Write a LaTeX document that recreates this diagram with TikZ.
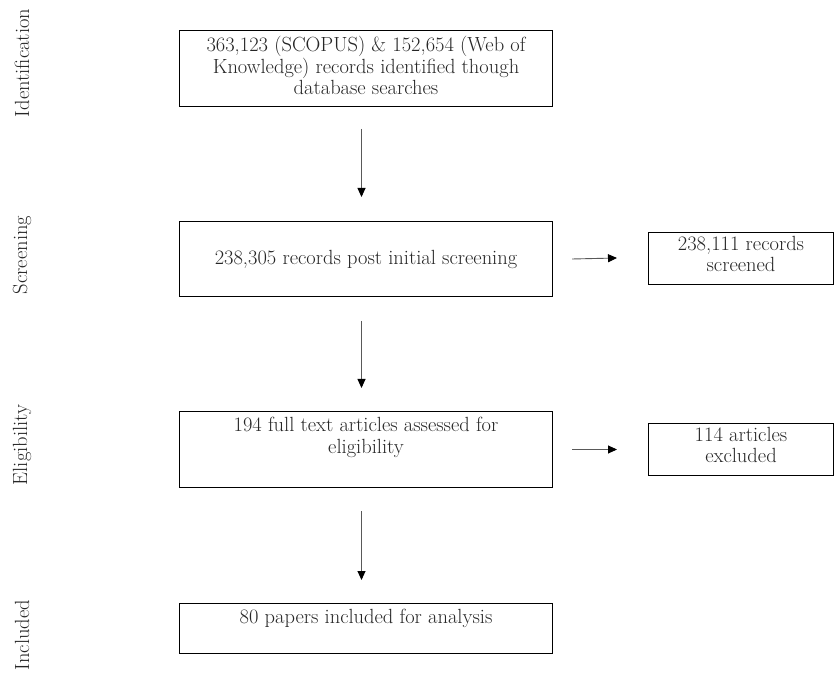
\documentclass[tikz,border=0pt]{standalone}
\usetikzlibrary{arrows.meta}
\begin{document}
\begin{tikzpicture}[x=1pt,y=1pt,
  box/.style={draw=black, line width=1pt, inner sep=0pt, anchor=north west},
  txt/.style={font=\fontsize{20.5}{21.5}\selectfont, align=center, text=black!85, inner sep=0pt},
  phase/.style={font=\fontsize{20.5}{21.5}\selectfont, rotate=90, text=black!85, inner sep=0pt},
  flow/.style={draw=black!65, line width=0.9pt, -{Triangle[length=9pt,width=8pt,color=black]}}
]
\useasboundingbox (0,0) rectangle (834,691);
% boxes (y = 691 - pixel y)
\node[box, minimum width=373pt, minimum height=76pt] (b1) at (179,661) {};
\node[box, minimum width=373pt, minimum height=75pt] (b2) at (179,470) {};
\node[box, minimum width=373pt, minimum height=76pt] (b3) at (179,280) {};
\node[box, minimum width=373pt, minimum height=50pt] (b4) at (179,88) {};
\node[box, minimum width=185pt, minimum height=52pt] (s1) at (648,459) {};
\node[box, minimum width=185pt, minimum height=52pt] (s2) at (648,268) {};
% texts
\node[txt, anchor=north] (t1) at ([yshift=-6pt]b1.north) {363,123 (SCOPUS) \& 152,654 (Web of\\Knowledge) records identified though\\database searches};
\node[txt] (t2) at (b2.center) {238,305 records post initial screening};
\node[txt, anchor=north] (t3) at ([yshift=-6pt]b3.north) {194 full text articles assessed for\\eligibility};
\node[txt, anchor=north] (t4) at ([yshift=-6pt]b4.north) {80 papers included for analysis};
\node[txt, anchor=north] (ts1) at ([yshift=-4pt]s1.north) {238,111 records\\screened};
\node[txt, anchor=north] (ts2) at ([yshift=-4pt]s2.north) {114 articles\\excluded};
% phases
\node[phase] (p1) at (22,628) {Identification};
\node[phase] (p2) at (22,436) {Screening};
\node[phase] (p3) at (22,246) {Eligibility};
\node[phase] (p4) at (22,56) {Included};
% arrows
\draw[flow] ([xshift=-4.5pt,yshift=-22pt]b1.south) -- ([xshift=-4.5pt,yshift=24pt]b2.north);
\draw[flow] ([xshift=-4.5pt,yshift=-24pt]b2.south) -- ([xshift=-4.5pt,yshift=23pt]b3.north);
\draw[flow] ([xshift=-4.5pt,yshift=-23pt]b3.south) -- ([xshift=-4.5pt,yshift=23pt]b4.north);
\draw[flow] ([xshift=19pt]b2.east) -- ([xshift=-31pt,yshift=0.5pt]s1.west);
\draw[flow] ([xshift=19pt]b3.east) -- ([xshift=-31pt]s2.west);
\end{tikzpicture}
\end{document}
